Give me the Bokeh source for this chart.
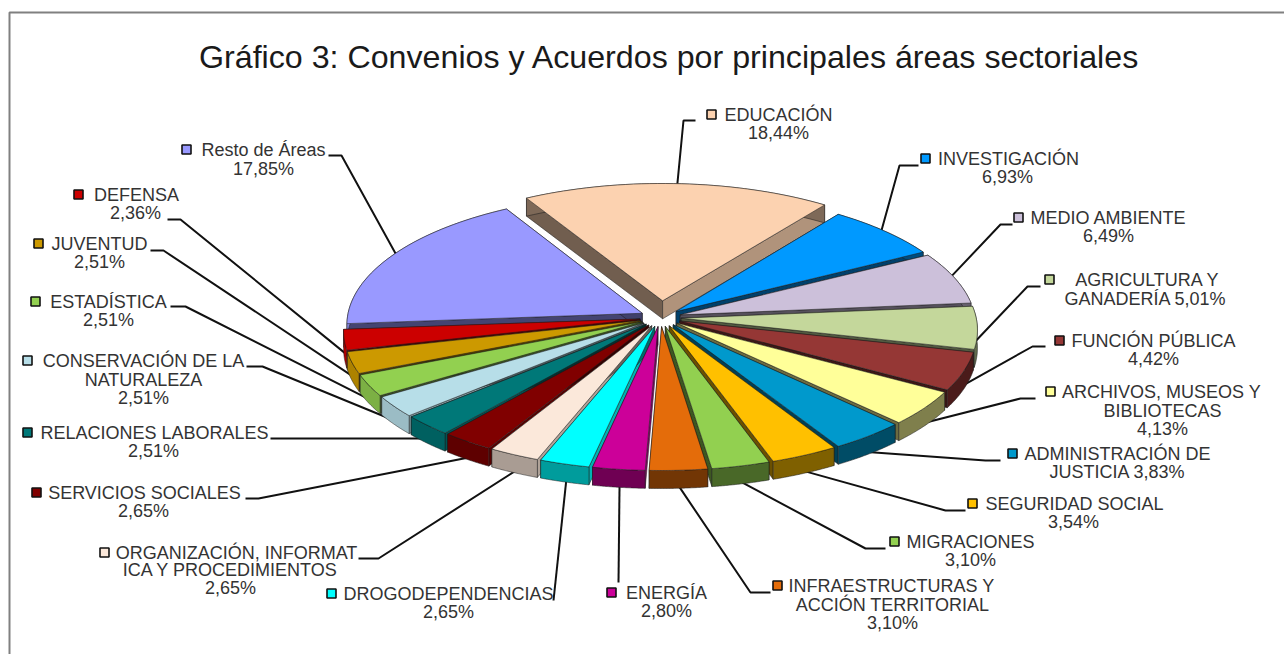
import math
import numpy as np
from bokeh.plotting import figure
from bokeh.core.properties import value
from bokeh.embed import file_html
from bokeh.resources import INLINE

title = "Gráfico 3: Convenios y Acuerdos por principales áreas sectoriales"

areas = ["EDUCACIÓN", "INVESTIGACIÓN", "MEDIO AMBIENTE", "AGRICULTURA Y GANADERÍA", "FUNCIÓN PÚBLICA",
         "ARCHIVOS, MUSEOS Y BIBLIOTECAS", "ADMINISTRACIÓN DE JUSTICIA", "SEGURIDAD SOCIAL", "MIGRACIONES",
         "INFRAESTRUCTURAS Y ACCIÓN TERRITORIAL", "ENERGÍA", "DROGODEPENDENCIAS",
         "ORGANIZACIÓN, INFORMATICA Y PROCEDIMIENTOS", "SERVICIOS SOCIALES", "RELACIONES LABORALES",
         "CONSERVACIÓN DE LA NATURALEZA", "ESTADÍSTICA", "JUVENTUD", "DEFENSA", "Resto de Áreas"]
shares = [18.44, 6.93, 6.49, 5.01, 4.42, 4.13, 3.83, 3.54, 3.10, 3.10, 2.80, 2.65, 2.65, 2.65, 2.51, 2.51,
          2.51, 2.51, 2.36, 17.85]
colors = ["#FCD2B0", "#0099FF", "#CCC0DA", "#C4D79B", "#953735", "#FFFF99", "#0099CC", "#FFC000", "#92D050",
          "#E46C0A", "#CC0099", "#00FFFF", "#FBE8DA", "#800000", "#007878", "#B7DEE8", "#92D050", "#CC9900",
          "#CC0000", "#9999FF"]
label_lines = [
    ["EDUCACIÓN", "18,44%"], ["INVESTIGACIÓN", "6,93%"], ["MEDIO AMBIENTE", "6,49%"],
    ["AGRICULTURA Y", "GANADERÍA 5,01%"], ["FUNCIÓN PÚBLICA", "4,42%"],
    ["ARCHIVOS, MUSEOS Y", "BIBLIOTECAS", "4,13%"], ["ADMINISTRACIÓN DE", "JUSTICIA 3,83%"],
    ["SEGURIDAD SOCIAL", "3,54%"], ["MIGRACIONES", "3,10%"],
    ["INFRAESTRUCTURAS Y", "ACCIÓN TERRITORIAL", "3,10%"], ["ENERGÍA", "2,80%"],
    ["DROGODEPENDENCIAS", "2,65%"], ["ORGANIZACIÓN, INFORMAT", "ICA Y PROCEDIMIENTOS", "2,65%"],
    ["SERVICIOS SOCIALES", "2,65%"], ["RELACIONES LABORALES", "2,51%"],
    ["CONSERVACIÓN DE LA", "NATURALEZA", "2,51%"], ["ESTADÍSTICA", "2,51%"], ["JUVENTUD", "2,51%"],
    ["DEFENSA", "2,36%"], ["Resto de Áreas", "17,85%"],
]

# --- layout (page pixels) ---
# per label: marker x, marker y, [centre x of each text line], [y of each line], leader start polyline
label_layout = [
    (711, 114, [778, 778], [114, 132], [(695, 120), (683, 120)]),
    (925, 158, [1008, 1007], [158, 176], [(918, 165), (899, 165)]),
    (1018, 217, [1108, 1108], [217, 235], [(1012, 224), (1000, 224)]),
    (1049, 279, [1147, 1145], [279, 298], [(1040, 286), (1027, 286)]),
    (1059, 340, [1153, 1153], [340, 358], [(1045, 346), (1032, 346)]),
    (1050, 391, [1161, 1162], [391, 410, 428], [(1035, 398), (1020, 398)]),
    (1012, 453, [1117, 1117], [453, 471], [(1000, 460), (985, 460)]),
    (972, 503, [1074, 1073], [503, 521], [(965, 510), (945, 510)]),
    (894, 541, [970, 970], [541, 559], [(885, 548), (865, 548)]),
    (777, 585, [891, 892], [585, 604, 622], [(770, 592), (750, 592)]),
    (611, 592, [666, 666], [592, 610], [(618, 582)]),
    (331, 593, [448, 448], [593, 611], [(553, 600)]),
    (104, 552, [236, 230], [552, 569, 587], [(358, 558), (378, 558)]),
    (36, 492, [144, 143], [492, 510], [(245, 498), (258, 498)]),
    (27, 432, [154, 153], [432, 450], [(270, 438), (425, 438)]),
    (27, 360, [143, 143], [360, 379, 397], [(246, 366), (262, 366)]),
    (35, 301, [108, 108], [301, 319], [(170, 306), (185, 306)]),
    (38, 243, [99, 99], [243, 261], [(150, 250), (163, 250)]),
    (78, 194, [136, 135], [194, 212], [(167, 219), (180, 219)]),
    (186, 149, [263, 263], [149, 168], [(328, 155), (341, 155)]),
]

W, H = 1284, 654
CX, CY, RX, RY, PERSP, DEPTH = 660, 317, 295, 130, 0.085, 18
START = -30.0
WARP = 2.0
EXPLODE = [0.13] + [0.07] * 19
FONT = "Liberation Sans"


def project(u, v):
    w = 1 - PERSP * v
    return CX + RX * u / w, CY + RY * v / w


def shade(hex_color, f):
    r, g, b = (int(hex_color[i:i + 2], 16) for i in (1, 3, 5))
    return "#%02x%02x%02x" % (int(r * f), int(g * f), int(b * f))


def warp(a):
    # the picture's lower half is drawn slightly bunched towards the viewer
    return a + WARP * math.sin(math.radians(2 * (a - 90))) if 90 < a < 270 else a


total = sum(shares)
edges = [warp(a) for a in START + np.cumsum([0] + shares) * 360.0 / total]


def slice_geometry(i):
    a0, a1 = edges[i], edges[i + 1]
    mid = math.radians((a0 + a1) / 2)
    ox, oy = EXPLODE[i] * math.sin(mid), -EXPLODE[i] * math.cos(mid)
    angs = np.radians(np.linspace(a0, a1, 40))
    rim = [project(ox + math.sin(t), oy - math.cos(t)) for t in angs]
    tip = project(ox, oy)
    return tip, rim, ox, oy, mid


xs, ys, fills = [], [], []
order = sorted(range(len(shares)), key=lambda i: slice_geometry(i)[3] - math.cos(slice_geometry(i)[4]) * 0.3)
for i in order:
    tip, rim, ox, oy, mid = slice_geometry(i)
    deg = math.degrees(mid) % 360
    c = colors[i]
    # radial walls
    for pt, f in ((rim[0], 0.7 if 180 < deg < 240 else 0.45), (rim[-1], 0.7 if deg < 10 else 0.42)):
        xs.append([tip[0], pt[0], pt[0], tip[0]])
        ys.append([tip[1], pt[1], pt[1] + DEPTH, tip[1] + DEPTH])
        fills.append(shade(c, f))
    # outer wall
    f = 0.5 if deg <= 180 else 0.5 + 0.35 * min(1, (deg - 180) / 50)
    xs.append([q[0] for q in rim] + [q[0] for q in rim[::-1]])
    ys.append([q[1] for q in rim] + [q[1] + DEPTH for q in rim[::-1]])
    fills.append(shade(c, f))
    # top face
    xs.append([tip[0]] + [q[0] for q in rim])
    ys.append([tip[1]] + [q[1] for q in rim])
    fills.append(c)

p = figure(width=W, height=H, x_range=(0, W), y_range=(H, 0), output_backend="svg",
           toolbar_location=None, min_border=0, outline_line_color=None)
p.axis.visible = False
p.grid.visible = False

# frame
p.line([W, 9, 9], [12, 12, H], line_color="#808080", line_width=2)

# leaders
lx, ly = [], []
for i, lay in enumerate(label_layout):
    tip, rim, ox, oy, mid = slice_geometry(i)
    end = project(ox + math.sin(mid) * 0.98, oy - math.cos(mid) * 0.98)
    lx.append([q[0] for q in lay[4]] + [end[0]])
    ly.append([q[1] for q in lay[4]] + [end[1] + (DEPTH if math.cos(mid) < 0 else 0)])
p.multi_line(lx, ly, line_color="#111111", line_width=2)

p.patches(xs=xs, ys=ys, fill_color=fills, line_color="#1c1c1c", line_width=0.7, line_alpha=0.75)

# markers
p.scatter([l[0] for l in label_layout], [l[1] for l in label_layout], marker="square", size=9,
          fill_color=colors, line_color="#111111", line_width=1.6)

# texts
tx, ty, tt = [], [], []
for lines, lay in zip(label_lines, label_layout):
    for j, s in enumerate(lines):
        tx.append(lay[2][j] if j < len(lay[2]) else lay[2][-1])
        ty.append(lay[3][j])
        tt.append(s)
p.text(tx, ty, text=tt, text_font=value(FONT), text_font_size="18px", text_align="center",
       text_baseline="middle", text_color="#333333")
p.text([669], [56], text=[title], text_font=value(FONT), text_font_size="32.2px", text_align="center",
       text_baseline="middle", text_color="#1a1a1a")

open("out.html", "w").write(file_html(p, INLINE))
